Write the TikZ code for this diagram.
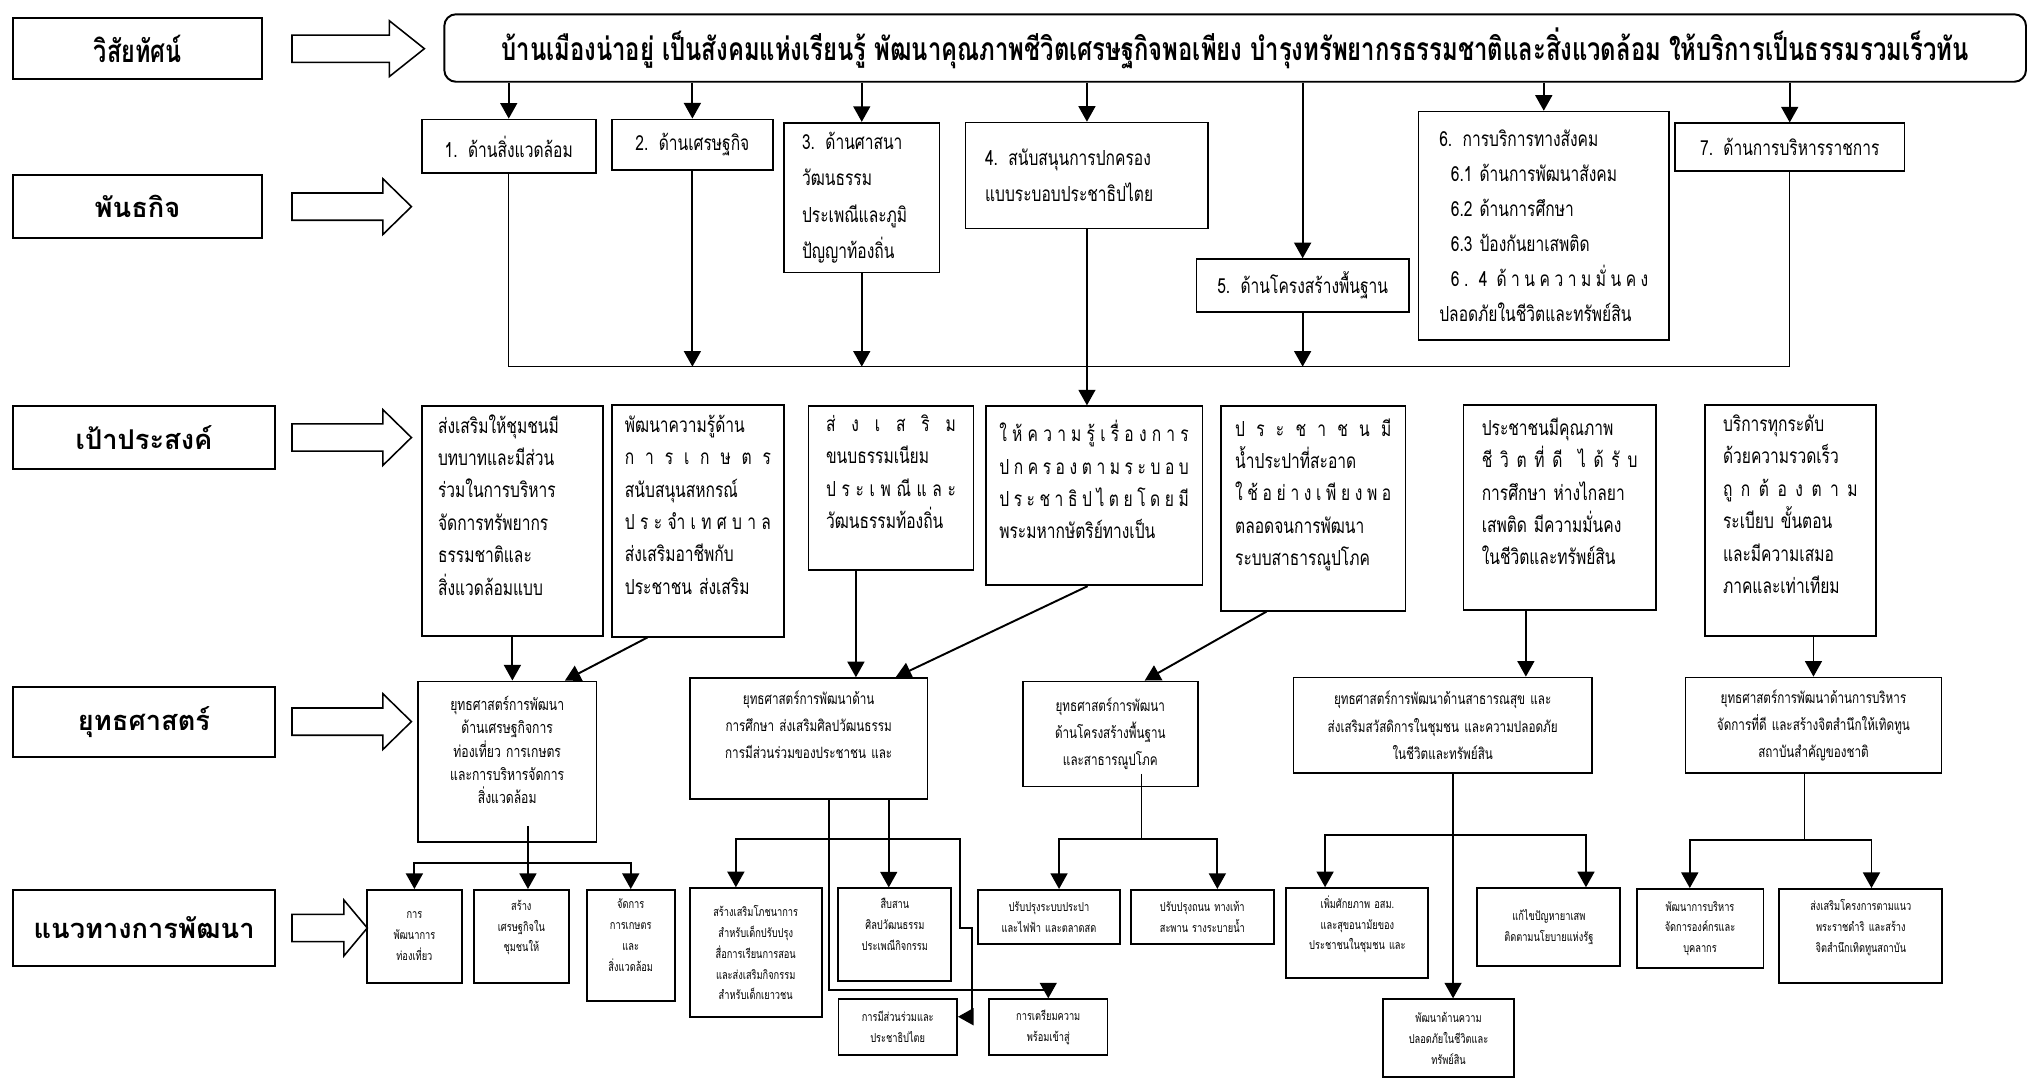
\documentclass[tikz,border=0pt]{standalone}
\usepackage{fontspec}
\newfontfamily\thaifont[Script=Thai]{Loma}
\newfontfamily\thainarrow[Script=Thai,FakeStretch=0.75]{Loma}
\usetikzlibrary{arrows.meta,calc}
\newcommand{\spreadline}[2][0pt]{\hspace*{#1}\makebox[\dimexpr\linewidth-#1\relax][s]{\spaceskip=0pt plus 1fil\relax #2}}

\begin{document}
\begin{tikzpicture}[x=1pt, y=-1pt,
  lab/.style={draw, line width=1.6pt, inner sep=0pt, font=\thaifont\bfseries\fontsize{21}{24}\selectfont},
  mis/.style={draw, line width=1.3pt, inner xsep=8pt, inner ysep=0pt, font=\thainarrow\fontsize{16}{28}\selectfont},
  goal/.style={draw, line width=1.3pt, inner ysep=0pt, align=left, font=\thainarrow\fontsize{16}{25}\selectfont},
  strat/.style={draw, line width=1.3pt, inner xsep=4pt, inner ysep=0pt, align=center, font=\thainarrow\fontsize{12}{21}\selectfont},
  guide/.style={draw, line width=1.5pt, inner xsep=3pt, inner ysep=0pt, align=center, font=\thainarrow\fontsize{9.5}{16}\selectfont},
  arr/.style={-{Triangle[width=13pt,length=12pt]}, line width=1.5pt},
  arrs/.style={{Triangle[width=13pt,length=12pt]}-{Triangle[width=13pt,length=12pt]}, line width=1.5pt},
  link/.style={line width=1pt},
  hollow/.style={draw, line width=1.2pt, fill=white}]

    % Page
    \fill[white] (0,0) rectangle (1568,830.6);
    \useasboundingbox (0,0) rectangle (1568,830.6);

    % Vision row
    \node[lab, font=\thainarrow\bfseries\fontsize{24}{28}\selectfont, minimum width=192pt, minimum height=47pt] (lab1) at (106,37.5) {วิสัยทัศน์};
    \node[draw, line width=1.5pt, rounded corners=9pt, inner sep=0pt, minimum width=1218.7pt, minimum height=52pt,
          font=\thainarrow\bfseries\fontsize{24.5}{28}\selectfont] (vis) at (951.7,37)
          {บ้านเมืองน่าอยู่ เป็นสังคมแห่งเรียนรู้ พัฒนาคุณภาพชีวิตเศรษฐกิจพอเพียง บำรุงทรัพยากรธรรมชาติและสิ่งแวดล้อม ให้บริการเป็นธรรมรวมเร็วทัน};

    % Row labels
    \node[lab, minimum width=192pt, minimum height=49pt] (lab2) at (106,159.2) {พันธกิจ};
    \node[lab, minimum width=202pt, minimum height=49pt] (lab3) at (111,337.1) {เป้าประสงค์};
    \node[lab, minimum width=202pt, minimum height=54pt] (lab4) at (111,556) {ยุทธศาสตร์};
    \node[lab, minimum width=202pt, minimum height=58pt] (lab5) at (111,715) {แนวทางการพัฒนา};

    % Hollow arrows
    \coordinate (hs) at (225,0);
    \foreach \n/\len/\hd in {1/75/27, 2/70/22, 3/70/22, 4/70/22, 5/40/18}
        \draw[hollow] (lab\n.east -| hs) ++(0,-10.5) -- ++(\len,0) -- ++(0,-11) -- ++(\hd,21.5)
            -- ++(-\hd,21.5) -- ++(0,-11) -- ++(-\len,0) -- cycle;

    % Missions
    \node[mis, align=center, text width=118pt, minimum height=41.5pt] (m1) at (392,112.8) {1. ด้านสิ่งแวดล้อม};
    \node[mis, align=center, text width=108pt, minimum height=39pt] (m2) at (533.5,111.5) {2. ด้านเศรษฐกิจ};
    \node[mis, align=left, inner xsep=14pt, text width=92pt, minimum height=115.5pt] (m3) at (664,152.3)
        {3. ด้านศาสนา\\วัฒนธรรม\\ประเพณีและภูมิ\\ปัญญาท้องถิ่น};
    \node[mis, align=left, inner xsep=15pt, text width=157pt, minimum height=81.5pt] (m4) at (837.5,135.2)
        {4. สนับสนุนการปกครอง\\แบบระบอบประชาธิปไตย};
    \node[mis, align=center, text width=147.5pt, minimum height=40.7pt] (m5) at (1003.7,220) {5. ด้านโครงสร้างพื้นฐาน};
    \node[mis, align=left, inner xsep=16pt, text width=161pt, minimum height=176pt, font=\thainarrow\fontsize{16}{27}\selectfont] (m6) at (1189.5,174)
        {6. การบริการทางสังคม\\
         \hspace*{9pt}6.1 ด้านการพัฒนาสังคม\\
         \hspace*{9pt}6.2 ด้านการศึกษา\\
         \hspace*{9pt}6.3 ป้องกันยาเสพติด\\
         \spreadline[9pt]{6 . 4 \hfil ด้ า น ค ว า ม มั่ น ค ง}\\
         ปลอดภัยในชีวิตและทรัพย์สิน};
    \node[mis, align=center, text width=161pt, minimum height=37pt] (m7) at (1379,113.5) {7. ด้านการบริหารราชการ};

    % Vision to missions
    \foreach \n in {1,...,7}
        \draw[arr] (m\n.north |- vis.south) -- (m\n.north);

    % Missions bus
    \coordinate (bus1) at (0,282.5);
    \draw[link] (m1.south) -- (m1.south |- bus1) -- (m7.south |- bus1) -- (m7.south);
    \foreach \n in {2,3,5}
        \draw[arr] (m\n.south) -- (m\n.south |- bus1);

    % Goals
    \node[goal, inner xsep=12.5pt, text width=114.6pt, minimum height=177pt] (o1) at (394.8,401.5)
        {ส่งเสริมให้ชุมชนมี\\บทบาทและมีส่วน\\ร่วมในการบริหาร\\จัดการทรัพยากร\\ธรรมชาติและ\\สิ่งแวดล้อมแบบ\\ \mbox{}};
    \node[goal, inner xsep=10pt, text width=112.5pt, minimum height=178.5pt] (o2) at (537.8,401.3)
        {พัฒนาความรู้ด้าน\\\spreadline{ก า ร เ ก ษ ต ร}\\สนับสนุนสหกรณ์\\\spreadline{ป ร ะ จำ เ ท ศ บ า ล}\\ส่งเสริมอาชีพกับ\\ประชาชน ส่งเสริม\\ \mbox{}};
    \node[goal, inner xsep=13.5pt, text width=100pt, minimum height=126pt] (o3) at (686.5,376)
        {\spreadline{ส่ ง เ ส ริ ม}\\ขนบธรรมเนียม\\\spreadline{ป ร ะ เ พ ณี แ ล ะ}\\วัฒนธรรมท้องถิ่น\\ \mbox{}};
    \node[goal, inner xsep=10.5pt, text width=146pt, minimum height=138pt] (o4) at (843,382)
        {\spreadline{ใ ห้ ค ว า ม รู้ เ รื่ อ ง ก า ร}\\\spreadline{ป ก ค ร อ ง ต า ม ร ะ บ อ บ}\\\spreadline{ป ร ะ ช า ธิ ป ไ ต ย โ ด ย มี}\\พระมหากษัตริย์ทางเป็น\\ \mbox{}};
    \node[goal, inner xsep=11pt, text width=120.3pt, minimum height=157.7pt] (o5) at (1011.9,391.7)
        {\spreadline{ป ร ะ ช า ช น มี}\\น้ำประปาที่สะอาด\\\spreadline{ใ ช้ อ ย่ า ง เ พี ย ง พ อ}\\ตลอดจนการพัฒนา\\ระบบสาธารณูปโภค\\ \mbox{}};
    \node[goal, inner xsep=14pt, text width=120pt, minimum height=158pt] (o6) at (1201.7,391)
        {ประชาชนมีคุณภาพ\\\spreadline{ชี วิ ต ที่ ดี \hfil ไ ด้ รั บ}\\การศึกษา ห่างไกลยา\\เสพติด มีความมั่นคง\\ในชีวิตและทรัพย์สิน\\ \mbox{}};
    \node[goal, inner xsep=14pt, text width=103.8pt, minimum height=178pt] (o7) at (1379.5,401)
        {บริการทุกระดับ\\ด้วยความรวดเร็ว\\\spreadline{ถู ก ต้ อ ง ต า ม}\\ระเบียบ ขั้นตอน\\และมีความเสมอ\\ภาคและเท่าเทียม\\ \mbox{}};

    % Bus to goal 4
    \draw[arr] (m4.south) -- (m4.south |- o4.north);

    % Strategies
    \node[strat, text width=129.5pt, minimum height=124pt, font=\thainarrow\fontsize{12.5}{18}\selectfont] (s1) at (390.8,587)
        {ยุทธศาสตร์การพัฒนา\\ด้านเศรษฐกิจการ\\ท่องเที่ยว การเกษตร\\และการบริหารจัดการ\\สิ่งแวดล้อม\\ \mbox{}};
    \node[strat, text width=175pt, minimum height=93pt] (s2) at (623.1,569)
        {ยุทธศาสตร์การพัฒนาด้าน\\การศึกษา ส่งเสริมศิลปวัฒนธรรม\\การมีส่วนร่วมของประชาชน และ\\ \mbox{}};
    \node[strat, text width=127pt, minimum height=81pt] (s3) at (855.5,565.5)
        {ยุทธศาสตร์การพัฒนา\\ด้านโครงสร้างพื้นฐาน\\และสาธารณูปโภค};
    \node[strat, text width=221.7pt, minimum height=73.6pt] (s4) at (1111.6,558.8)
        {ยุทธศาสตร์การพัฒนาด้านสาธารณสุข และ\\ส่งเสริมสวัสดิการในชุมชน และความปลอดภัย\\ในชีวิตและทรัพย์สิน};
    \node[strat, text width=189.4pt, minimum height=73.6pt] (s5) at (1397.3,558.8)
        {ยุทธศาสตร์การพัฒนาด้านการบริหาร\\จัดการที่ดี และสร้างจิตสำนึกให้เทิดทูน\\สถาบันสำคัญของชาติ};

    % Goals to strategies
    \draw[arr] (o1.south) -- (o1.south |- s1.north);
    \draw[arr] ([xshift=-39pt]o2.south) -- ([xshift=44.5pt]s1.north);
    \draw[arr] ([xshift=-27pt]o3.south) -- ([xshift=-27pt]o3.south |- s2.north);
    \draw[arr] ([xshift=-5pt]o4.south) -- ([xshift=67pt]s2.north);
    \draw[arr] ([xshift=-36pt]o5.south) -- ([xshift=26.5pt]s3.north);
    \draw[arr] ([xshift=-26pt]o6.south) -- ([xshift=-26pt]o6.south |- s4.north);
    \draw[arr] (o7.south -| s5.north) -- (s5.north);

    % Guidelines
    \node[guide, text width=67.5pt, minimum height=71.3pt] (g1) at (319.3,721.4) {การ\\พัฒนาการ\\ท่องเที่ยว};
    \node[guide, text width=67.4pt, minimum height=71.3pt] (g2) at (401.7,721.4) {สร้าง\\เศรษฐกิจใน\\ชุมชนให้\\ \mbox{}};
    \node[guide, text width=62pt, minimum height=85.3pt] (g3) at (486,728.4) {จัดการ\\การเกษตร\\และ\\สิ่งแวดล้อม\\ \mbox{}};
    \node[guide, text width=95.4pt, minimum height=99.4pt] (g4) at (582.3,734.1)
        {สร้างเสริมโภชนาการ\\สำหรับเด็กปรับปรุง\\สื่อการเรียนการสอน\\และส่งเสริมกิจกรรม\\สำหรับเด็กเยาวชน};
    \node[guide, text width=81pt, minimum height=71pt] (g5) at (689.5,720) {สืบสาน\\ศิลปวัฒนธรรม\\ประเพณีกิจกรรม\\ \mbox{}};
    \node[guide, text width=85.3pt, minimum height=42.8pt] (g6) at (691.7,791.4) {การมีส่วนร่วมและ\\ประชาธิปไตย};
    \node[guide, text width=85.3pt, minimum height=42.8pt] (g7) at (807.7,791.4) {การเตรียมความ\\พร้อมเข้าสู่};
    \node[guide, text width=103.4pt, minimum height=41.8pt] (g8) at (808.2,706.6) {ปรับปรุงระบบประปา\\และไฟฟ้า และตลาดสด};
    \node[guide, text width=104.3pt, minimum height=41.8pt] (g9) at (926.4,706.6) {ปรับปรุงถนน ทางเท้า\\สะพาน รางระบายน้ำ};
    \node[guide, text width=103.4pt, minimum height=69.3pt] (g10) at (1045.9,719) {เพิ่มศักยภาพ อสม.\\และสุขอนามัยของ\\ประชาชนในชุมชน และ\\ \mbox{}};
    \node[guide, text width=104.2pt, minimum height=59.8pt] (g11) at (1193.4,714.3) {แก้ไขปัญหายาเสพ\\ติดตามนโยบายแห่งรัฐ};
    \node[guide, text width=95.2pt, minimum height=60pt] (g12) at (1116.1,800) {พัฒนาด้านความ\\ปลอดภัยในชีวิตและ\\ทรัพย์สิน};
    \node[guide, text width=91.8pt, minimum height=61pt] (g13) at (1309.9,715.5) {พัฒนาการบริหาร\\จัดการองค์กรและ\\บุคลากร};
    \node[guide, text width=119.5pt, minimum height=72.6pt] (g14) at (1433.8,721.3) {ส่งเสริมโครงการตามแนว\\พระราชดำริ และสร้าง\\จิตสำนึกเทิดทูนสถาบัน\\ \mbox{}};

    % Strategy 1 to guidelines
    \coordinate (bus2) at (0,665);
    \draw[arr] ([shift={(16pt,13.4pt)}]s1.south) -- ([xshift=16pt]s1.south |- g2.north);
    \draw[arrs] (g1.north) -- (g1.north |- bus2) -- (g3.north |- bus2) -- (g3.north);

    % Strategy 2 to guidelines
    \coordinate (bus3) at (0,646.4);
    \coordinate (bus4) at (0,762.7);
    \draw[arr] ([xshift=61.7pt]s2.south) -- ([xshift=61.7pt]s2.south |- g5.north);
    \draw[arrs] ([xshift=-15.3pt]g4.north) -- ([xshift=-15.3pt]g4.north |- bus3) -- ++(172.8,0) -- ++(0,68.8)
        -- ++(9.2,0) -- ++(0,68.2) -- ([yshift=8pt]g6.east);
    \draw[arr] ([xshift=15.3pt]s2.south) -- ([xshift=15.3pt]s2.south |- bus4) -- (g7.north |- bus4) -- (g7.north);

    % Strategy 3 to guidelines
    \draw[link] ([shift={(24.3pt,10.3pt)}]s3.south) -- ([xshift=24.3pt]s3.south |- bus3);
    \draw[arrs] ([xshift=7.8pt]g8.north) -- ([xshift=7.8pt]g8.north |- bus3) -- ([xshift=11.6pt]g9.north |- bus3) -- ([xshift=11.6pt]g9.north);

    % Strategy 4 to guidelines
    \coordinate (bus5) at (0,643.3);
    \draw[arr] ([xshift=8pt]s4.south) -- ([xshift=8pt]s4.south |- g12.north);
    \draw[arrs] ([xshift=-24.9pt]g10.north) -- ([xshift=-24.9pt]g10.north |- bus5) -- ([xshift=28.6pt]g11.north |- bus5) -- ([xshift=28.6pt]g11.north);

    % Strategy 5 to guidelines
    \coordinate (bus6) at (0,647);
    \draw[link] ([xshift=-6.8pt]s5.south) -- ([xshift=-6.8pt]s5.south |- bus6);
    \draw[arrs] ([xshift=-7.9pt]g13.north) -- ([xshift=-7.9pt]g13.north |- bus6) -- ([xshift=8.2pt]g14.north |- bus6) -- ([xshift=8.2pt]g14.north);
\end{tikzpicture}
\end{document}
